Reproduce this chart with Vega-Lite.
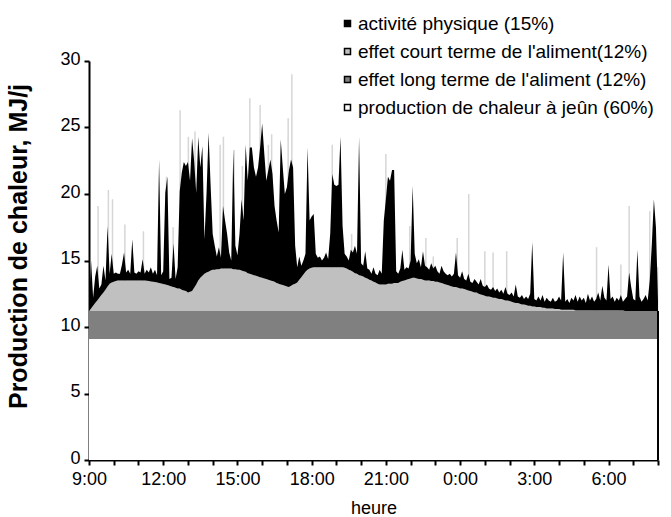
{
  "$schema": "https://vega.github.io/schema/vega-lite/v6.json",
  "width": 569,
  "height": 399,
  "autosize": "none",
  "padding": {"left": 89, "top": 61, "right": 13, "bottom": 57},
  "background": "#ffffff",
  "datasets": {
    "spikes": [
      {"m":22,"s":19.1},{"m":47,"s":20.3},{"m":57,"s":19.6},{"m":87,"s":17.7},{"m":132,"s":17.2},{"m":188,"s":21.3},{"m":204,"s":17.5},{"m":221,"s":26.3},{"m":241,"s":24.3},{"m":257,"s":24.7},{"m":318,"s":23.7},{"m":326,"s":24.3},{"m":352,"s":23.3},{"m":372,"s":22.1},{"m":390,"s":27.2},{"m":415,"s":26.7},{"m":435,"s":23.7},{"m":443,"s":24.5},{"m":483,"s":25.7},{"m":492,"s":29.0},{"m":590,"s":23.7},{"m":637,"s":17.0},{"m":720,"s":23.0},{"m":778,"s":17.6},{"m":817,"s":16.7},{"m":835,"s":15.3},{"m":893,"s":16.7},{"m":921,"s":20.0},{"m":960,"s":15.7},{"m":980,"s":15.6},{"m":1013,"s":15.7},{"m":1231,"s":16.0},{"m":1290,"s":14.7},{"m":1310,"s":19.1},{"m":1360,"s":18.7},{"m":1379,"s":14.5}
    ],
    "series": [
      {"m":0,"g":11.2,"b":11.7},{"m":5,"g":11.4,"b":15.0},{"m":10,"g":11.6,"b":12.2},{"m":15,"g":11.8,"b":13.8},{"m":20,"g":12.0,"b":14.6},{"m":25,"g":12.2,"b":12.9},{"m":30,"g":12.4,"b":13.2},{"m":35,"g":12.6,"b":14.6},{"m":40,"g":12.8,"b":13.5},{"m":45,"g":13.05,"b":17.6},{"m":50,"g":13.25,"b":14.0},{"m":55,"g":13.35,"b":15.5},{"m":60,"g":13.4,"b":14.0},{"m":65,"g":13.45,"b":14.1},{"m":70,"g":13.5,"b":14.0},{"m":75,"g":13.5,"b":14.0},{"m":80,"g":13.5,"b":14.7},{"m":85,"g":13.5,"b":15.6},{"m":90,"g":13.5,"b":14.1},{"m":95,"g":13.5,"b":14.3},{"m":100,"g":13.5,"b":14.0},{"m":105,"g":13.5,"b":16.6},{"m":110,"g":13.5,"b":14.1},{"m":115,"g":13.5,"b":14.0},{"m":120,"g":13.5,"b":14.2},{"m":125,"g":13.5,"b":14.1},{"m":130,"g":13.5,"b":15.1},{"m":135,"g":13.5,"b":14.0},{"m":140,"g":13.48,"b":14.3},{"m":145,"g":13.45,"b":14.1},{"m":150,"g":13.43,"b":14.5},{"m":155,"g":13.4,"b":14.0},{"m":160,"g":13.38,"b":14.3},{"m":165,"g":13.35,"b":13.9},{"m":170,"g":13.3,"b":22.6},{"m":175,"g":13.27,"b":13.9},{"m":180,"g":13.23,"b":14.2},{"m":185,"g":13.2,"b":20.1},{"m":190,"g":13.15,"b":21.3},{"m":195,"g":13.1,"b":13.6},{"m":200,"g":13.05,"b":13.7},{"m":205,"g":13.0,"b":16.3},{"m":210,"g":12.95,"b":13.6},{"m":215,"g":12.9,"b":14.5},{"m":220,"g":12.9,"b":20.2},{"m":225,"g":12.8,"b":21.6},{"m":230,"g":12.75,"b":22.4},{"m":235,"g":12.7,"b":22.1},{"m":240,"g":12.6,"b":22.4},{"m":245,"g":12.65,"b":21.0},{"m":250,"g":12.7,"b":24.2},{"m":255,"g":12.95,"b":22.5},{"m":260,"g":13.2,"b":20.1},{"m":265,"g":13.5,"b":24.3},{"m":270,"g":13.7,"b":22.0},{"m":275,"g":13.85,"b":23.6},{"m":280,"g":14.0,"b":16.6},{"m":285,"g":14.1,"b":20.0},{"m":290,"g":14.15,"b":24.6},{"m":295,"g":14.25,"b":20.6},{"m":300,"g":14.3,"b":17.0},{"m":305,"g":14.3,"b":16.1},{"m":310,"g":14.35,"b":15.3},{"m":315,"g":14.35,"b":16.0},{"m":320,"g":14.4,"b":15.2},{"m":325,"g":14.4,"b":19.1},{"m":330,"g":14.4,"b":18.0},{"m":335,"g":14.4,"b":17.0},{"m":340,"g":14.4,"b":15.6},{"m":345,"g":14.4,"b":15.0},{"m":350,"g":14.35,"b":23.3},{"m":355,"g":14.35,"b":16.1},{"m":360,"g":14.3,"b":15.4},{"m":365,"g":14.3,"b":17.0},{"m":370,"g":14.25,"b":19.6},{"m":375,"g":14.2,"b":18.0},{"m":380,"g":14.15,"b":23.7},{"m":385,"g":14.05,"b":21.0},{"m":390,"g":14.0,"b":23.5},{"m":395,"g":13.95,"b":23.5},{"m":400,"g":13.9,"b":22.0},{"m":405,"g":13.85,"b":21.3},{"m":410,"g":13.8,"b":22.0},{"m":415,"g":13.75,"b":23.5},{"m":420,"g":13.7,"b":25.3},{"m":425,"g":13.65,"b":23.1},{"m":430,"g":13.6,"b":21.0},{"m":435,"g":13.55,"b":21.8},{"m":440,"g":13.5,"b":22.6},{"m":445,"g":13.45,"b":21.5},{"m":450,"g":13.4,"b":19.1},{"m":455,"g":13.3,"b":18.0},{"m":460,"g":13.25,"b":17.1},{"m":465,"g":13.2,"b":24.1},{"m":470,"g":13.15,"b":22.0},{"m":475,"g":13.1,"b":20.0},{"m":480,"g":13.05,"b":20.5},{"m":485,"g":13.0,"b":21.8},{"m":490,"g":13.1,"b":22.6},{"m":495,"g":13.2,"b":22.0},{"m":500,"g":13.25,"b":16.1},{"m":505,"g":13.35,"b":14.5},{"m":510,"g":13.55,"b":15.3},{"m":515,"g":13.75,"b":14.6},{"m":520,"g":13.95,"b":15.0},{"m":525,"g":14.15,"b":15.5},{"m":530,"g":14.3,"b":23.5},{"m":535,"g":14.4,"b":18.0},{"m":540,"g":14.45,"b":18.3},{"m":545,"g":14.5,"b":18.5},{"m":550,"g":14.5,"b":15.5},{"m":555,"g":14.5,"b":15.2},{"m":560,"g":14.5,"b":15.3},{"m":565,"g":14.5,"b":15.0},{"m":570,"g":14.5,"b":15.2},{"m":575,"g":14.5,"b":15.6},{"m":580,"g":14.5,"b":15.1},{"m":585,"g":14.5,"b":17.0},{"m":590,"g":14.5,"b":21.5},{"m":595,"g":14.5,"b":20.7},{"m":600,"g":14.5,"b":20.6},{"m":605,"g":14.5,"b":20.7},{"m":610,"g":14.5,"b":24.3},{"m":615,"g":14.5,"b":17.6},{"m":620,"g":14.45,"b":15.5},{"m":625,"g":14.4,"b":15.3},{"m":630,"g":14.3,"b":15.0},{"m":635,"g":14.25,"b":15.8},{"m":640,"g":14.15,"b":15.6},{"m":645,"g":14.05,"b":16.1},{"m":650,"g":14.0,"b":15.5},{"m":655,"g":13.9,"b":24.3},{"m":660,"g":13.85,"b":14.8},{"m":665,"g":13.8,"b":14.6},{"m":670,"g":13.7,"b":15.7},{"m":675,"g":13.65,"b":14.4},{"m":680,"g":13.55,"b":14.3},{"m":685,"g":13.5,"b":14.0},{"m":690,"g":13.4,"b":14.5},{"m":695,"g":13.35,"b":14.0},{"m":700,"g":13.25,"b":13.9},{"m":705,"g":13.2,"b":14.3},{"m":710,"g":13.2,"b":14.0},{"m":715,"g":13.2,"b":18.0},{"m":720,"g":13.2,"b":19.6},{"m":725,"g":13.25,"b":21.3},{"m":730,"g":13.25,"b":21.0},{"m":735,"g":13.25,"b":21.8},{"m":740,"g":13.3,"b":21.8},{"m":745,"g":13.3,"b":14.2},{"m":750,"g":13.3,"b":14.0},{"m":755,"g":13.4,"b":14.4},{"m":760,"g":13.45,"b":15.8},{"m":765,"g":13.5,"b":14.3},{"m":770,"g":13.55,"b":14.5},{"m":775,"g":13.6,"b":14.4},{"m":780,"g":13.65,"b":15.0},{"m":785,"g":13.7,"b":20.6},{"m":790,"g":13.7,"b":15.5},{"m":795,"g":13.65,"b":14.8},{"m":800,"g":13.6,"b":15.1},{"m":805,"g":13.6,"b":14.5},{"m":810,"g":13.55,"b":15.7},{"m":815,"g":13.5,"b":14.6},{"m":820,"g":13.5,"b":14.5},{"m":825,"g":13.5,"b":14.3},{"m":830,"g":13.45,"b":14.8},{"m":835,"g":13.45,"b":14.4},{"m":840,"g":13.4,"b":14.6},{"m":845,"g":13.4,"b":14.2},{"m":850,"g":13.35,"b":14.0},{"m":855,"g":13.3,"b":14.6},{"m":860,"g":13.25,"b":14.2},{"m":865,"g":13.2,"b":14.0},{"m":870,"g":13.15,"b":13.9},{"m":875,"g":13.1,"b":14.0},{"m":880,"g":13.05,"b":13.8},{"m":885,"g":13.0,"b":14.0},{"m":890,"g":13.0,"b":15.6},{"m":895,"g":12.95,"b":13.9},{"m":900,"g":12.9,"b":13.7},{"m":905,"g":12.9,"b":14.2},{"m":910,"g":12.85,"b":13.6},{"m":915,"g":12.8,"b":13.5},{"m":920,"g":12.75,"b":14.0},{"m":925,"g":12.7,"b":13.4},{"m":930,"g":12.65,"b":13.3},{"m":935,"g":12.6,"b":13.6},{"m":940,"g":12.6,"b":13.4},{"m":945,"g":12.5,"b":13.2},{"m":950,"g":12.45,"b":13.6},{"m":955,"g":12.4,"b":13.1},{"m":960,"g":12.35,"b":13.0},{"m":965,"g":12.3,"b":13.2},{"m":970,"g":12.3,"b":12.9},{"m":975,"g":12.25,"b":12.8},{"m":980,"g":12.2,"b":13.0},{"m":985,"g":12.2,"b":12.7},{"m":990,"g":12.15,"b":12.9},{"m":995,"g":12.1,"b":12.6},{"m":1000,"g":12.1,"b":12.8},{"m":1005,"g":12.05,"b":12.5},{"m":1010,"g":12.0,"b":13.0},{"m":1015,"g":12.0,"b":12.5},{"m":1020,"g":11.95,"b":12.4},{"m":1025,"g":11.9,"b":12.6},{"m":1030,"g":11.85,"b":12.3},{"m":1035,"g":11.8,"b":13.2},{"m":1040,"g":11.8,"b":12.3},{"m":1045,"g":11.75,"b":12.2},{"m":1050,"g":11.7,"b":12.4},{"m":1055,"g":11.7,"b":12.1},{"m":1060,"g":11.65,"b":12.3},{"m":1065,"g":11.6,"b":12.1},{"m":1070,"g":11.6,"b":12.5},{"m":1075,"g":11.55,"b":16.4},{"m":1080,"g":11.55,"b":12.1},{"m":1085,"g":11.5,"b":12.0},{"m":1090,"g":11.5,"b":12.3},{"m":1095,"g":11.5,"b":12.0},{"m":1100,"g":11.45,"b":12.4},{"m":1105,"g":11.45,"b":11.9},{"m":1110,"g":11.4,"b":12.2},{"m":1115,"g":11.4,"b":12.0},{"m":1120,"g":11.4,"b":11.9},{"m":1125,"g":11.4,"b":12.2},{"m":1130,"g":11.35,"b":11.9},{"m":1135,"g":11.35,"b":12.0},{"m":1140,"g":11.35,"b":12.3},{"m":1145,"g":11.3,"b":12.0},{"m":1150,"g":11.3,"b":15.6},{"m":1155,"g":11.3,"b":11.9},{"m":1160,"g":11.3,"b":12.1},{"m":1165,"g":11.3,"b":11.8},{"m":1170,"g":11.3,"b":12.2},{"m":1175,"g":11.3,"b":12.0},{"m":1180,"g":11.25,"b":12.4},{"m":1185,"g":11.25,"b":11.9},{"m":1190,"g":11.25,"b":12.3},{"m":1195,"g":11.25,"b":12.0},{"m":1200,"g":11.25,"b":12.2},{"m":1205,"g":11.25,"b":11.8},{"m":1210,"g":11.25,"b":12.5},{"m":1215,"g":11.25,"b":12.0},{"m":1220,"g":11.25,"b":12.3},{"m":1225,"g":11.25,"b":11.9},{"m":1230,"g":11.25,"b":12.1},{"m":1235,"g":11.25,"b":12.6},{"m":1240,"g":11.25,"b":12.0},{"m":1245,"g":11.25,"b":13.1},{"m":1250,"g":11.25,"b":12.2},{"m":1255,"g":11.25,"b":12.0},{"m":1260,"g":11.25,"b":14.7},{"m":1265,"g":11.25,"b":12.1},{"m":1270,"g":11.25,"b":12.3},{"m":1275,"g":11.25,"b":11.9},{"m":1280,"g":11.25,"b":12.2},{"m":1285,"g":11.25,"b":12.0},{"m":1290,"g":11.25,"b":12.4},{"m":1295,"g":11.25,"b":11.9},{"m":1300,"g":11.2,"b":12.1},{"m":1305,"g":11.2,"b":12.3},{"m":1310,"g":11.2,"b":14.1},{"m":1315,"g":11.2,"b":13.0},{"m":1320,"g":11.2,"b":12.1},{"m":1325,"g":11.2,"b":12.0},{"m":1330,"g":11.2,"b":15.8},{"m":1335,"g":11.2,"b":12.3},{"m":1340,"g":11.2,"b":11.9},{"m":1345,"g":11.2,"b":12.1},{"m":1350,"g":11.2,"b":12.4},{"m":1355,"g":11.2,"b":12.0},{"m":1360,"g":11.2,"b":13.5},{"m":1365,"g":11.2,"b":16.2},{"m":1370,"g":11.2,"b":19.6},{"m":1375,"g":11.2,"b":17.5},{"m":1380,"g":11.2,"b":12.0}
    ]
  },
  "layer": [
    {
      "data": {"name": "spikes"},
      "mark": {"type": "rule", "color": "#d6d6d6", "strokeWidth": 1.5},
      "encoding": {
        "x": {"field": "m", "type": "quantitative", "title": "heure",
          "scale": {"domain": [0, 1380], "nice": false, "zero": false},
          "axis": {"values": [0,60,120,180,240,300,360,420,480,540,600,660,720,780,840,900,960,1020,1080,1140,1200,1260,1320,1380],
            "tickCount": 40,
            "labelExpr": "datum.value % 180 == 0 ? ((9 + datum.value / 60) % 24) + ':00' : ''",
            "labelOverlap": false, "labelFlush": false, "labelBound": false, "labelPadding": 5,
            "ticks": true, "tickSize": 5, "tickWidth": 2, "tickColor": "#000000", "tickOpacity": 1,
            "titleY": 48, "titleBaseline": "middle", "titleFontSize": 18, "titleFontWeight": "normal"}},
        "y": {"field": "s", "type": "quantitative", "title": "Production de chaleur, MJ/j",
          "scale": {"domain": [0, 30], "nice": false, "zero": true},
          "axis": {"values": [0,5,10,15,20,25,30], "tickCount": 10, "labelPadding": 4, "labelOffset": -2,
            "ticks": true, "tickSize": 5, "tickWidth": 2, "tickColor": "#000000", "tickOpacity": 1,
            "titleFontSize": 25, "titleFontWeight": "bold", "titleX": -71, "titleY": 185,
            "titleAlign": "center", "titleBaseline": "middle", "titleAngle": -90}},
        "y2": {"datum": 0}
      }
    },
    {
      "data": {"name": "series"},
      "mark": {"type": "area", "interpolate": "linear"},
      "encoding": {
        "x": {"field": "m", "type": "quantitative", "title": "heure"},
        "y": {"datum": 9.1},
        "y2": {"datum": 0},
        "color": {"datum": "production de chaleur à jeûn (60%)", "title": null}
      }
    },
    {
      "data": {"name": "series"},
      "mark": {"type": "area", "interpolate": "linear"},
      "encoding": {
        "x": {"field": "m", "type": "quantitative", "title": "heure"},
        "y": {"datum": 11.2},
        "y2": {"datum": 9.1},
        "color": {"datum": "effet long terme de l'aliment (12%)", "title": null}
      }
    },
    {
      "data": {"name": "series"},
      "mark": {"type": "area", "interpolate": "linear"},
      "encoding": {
        "x": {"field": "m", "type": "quantitative", "title": "heure"},
        "y": {"field": "g", "type": "quantitative", "title": "Production de chaleur, MJ/j"},
        "y2": {"datum": 11.2},
        "color": {"datum": "effet court terme de l'aliment(12%)", "title": null}
      }
    },
    {
      "data": {"name": "series"},
      "mark": {"type": "area", "interpolate": "linear"},
      "encoding": {
        "x": {"field": "m", "type": "quantitative", "title": "heure"},
        "y": {"field": "b", "type": "quantitative", "title": "Production de chaleur, MJ/j"},
        "y2": {"field": "g"},
        "color": {"datum": "activité physique (15%)", "title": null,
          "scale": {"domain": ["activité physique (15%)", "effet court terme de l'aliment(12%)", "effet long terme de l'aliment (12%)", "production de chaleur à jeûn (60%)"],
            "range": ["#000000", "#c0c0c0", "#808080", "#ffffff"]}}
      }
    },
    {
      "data": {"name": "series"},
      "mark": {"type": "rule", "color": "#000000", "strokeWidth": 2},
      "encoding": {
        "x": {"datum": 1380},
        "y": {"datum": 0},
        "y2": {"datum": 11.2}
      }
    }
  ],
  "config": {
    "font": "Liberation Sans",
    "view": {"stroke": null},
    "axis": {"domainColor": "#000000", "domainWidth": 2, "ticks": true, "tickColor": "#000000", "tickWidth": 2, "tickSize": 5,
      "labelFont": "Liberation Sans", "labelFontSize": 18, "labelColor": "#000000", "grid": false,
      "titleFont": "Liberation Sans", "titleColor": "#000000", "zindex": 1},
    "axisX": {"labelOverlap": false, "labelFlush": false, "labelBound": false, "ticks": true},
    "axisY": {"labelOverlap": false, "ticks": true},
    "legend": {"orient": "none", "legendX": 249, "legendY": -47, "symbolType": "square", "symbolSize": 36,
      "symbolStrokeColor": "#000000", "symbolStrokeWidth": 1.5, "labelFontSize": 19, "labelColor": "#000000",
      "labelFont": "Liberation Sans", "rowPadding": 8, "labelOffset": 1, "padding": 0, "labelLimit": 400}
  }
}
